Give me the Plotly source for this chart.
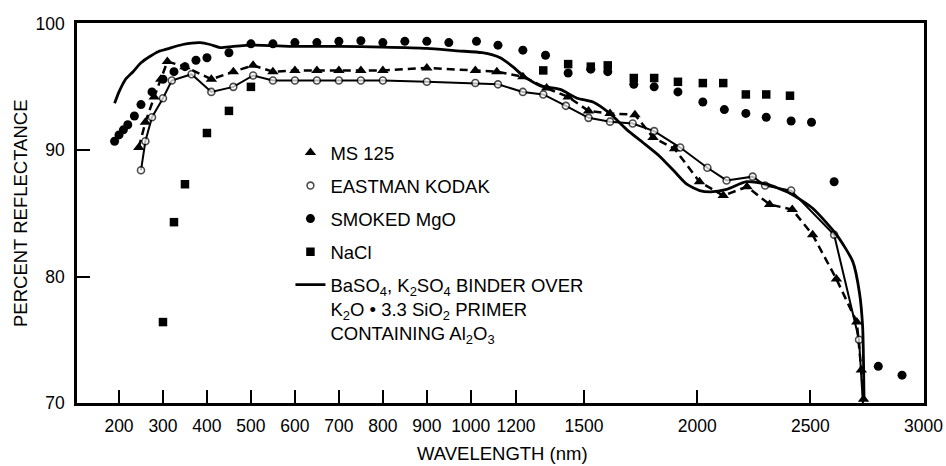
import numpy as np
import plotly.graph_objects as go

# ---- data (wavelength in nm, reflectance in percent) ----
ms125_wl = [245, 260, 280, 295, 310, 350, 410, 460, 505, 550, 600, 650, 700, 750, 800,
            900, 1020, 1115, 1230, 1335, 1430, 1520, 1615, 1725, 1805, 1900, 2010, 2115,
            2220, 2320, 2420, 2510, 2615, 2705, 2725, 2735]
ms125_pct = [90.2, 92.2, 94.2, 95.6, 97.0, 96.6, 95.6, 96.2, 96.7, 96.2, 96.3, 96.3, 96.3,
             96.3, 96.3, 96.5, 96.3, 96.2, 95.8, 94.9, 94.2, 93.1, 92.9, 92.8, 91.0, 90.1,
             87.5, 86.4, 87.1, 85.7, 85.3, 83.3, 79.8, 76.4, 72.6, 70.3]

kodak_wl = [250, 260, 275, 300, 320, 365, 410, 460, 505, 550, 600, 650, 700, 750, 800,
            900, 1020, 1120, 1230, 1320, 1420, 1520, 1615, 1715, 1810, 1925, 2045, 2130,
            2245, 2300, 2415, 2605, 2715, 2732]
kodak_pct = [88.4, 90.7, 92.6, 94.1, 95.5, 96.0, 94.6, 95.0, 95.9, 95.5, 95.5, 95.5, 95.5,
             95.5, 95.5, 95.4, 95.3, 95.2, 94.6, 94.4, 93.5, 92.55, 92.25, 92.1, 91.5, 90.2,
             88.6, 87.6, 87.9, 87.2, 86.8, 83.3, 75.0, 70.0]

mgo_wl = [190, 200, 210, 220, 235, 250, 275, 300, 325, 350, 375, 400, 450, 500, 550, 600,
          650, 700, 750, 800, 850, 900, 950, 1025, 1120, 1230, 1330, 1430, 1530, 1605,
          1720, 1810, 1915, 2025, 2120, 2215, 2305, 2415, 2505, 2605, 2800, 2905]
mgo_pct = [90.7, 91.2, 91.6, 92.0, 92.7, 93.6, 94.6, 95.6, 96.2, 96.6, 97.1, 97.3, 97.7,
           98.4, 98.4, 98.5, 98.5, 98.6, 98.65, 98.5, 98.6, 98.6, 98.5, 98.6, 98.3, 97.9,
           97.5, 96.1, 96.4, 96.2, 95.2, 95.0, 94.6, 93.8, 93.2, 92.9, 92.6, 92.3, 92.2,
           87.5, 72.9, 72.2]

nacl_wl = [300, 325, 350, 400, 450, 500, 1320, 1430, 1530, 1605, 1720, 1810, 1915, 2025,
           2115, 2215, 2305, 2410]
nacl_pct = [76.4, 84.3, 87.3, 91.35, 93.1, 95.0, 96.3, 96.8, 96.6, 96.7, 95.7, 95.7, 95.4,
            95.3, 95.3, 94.4, 94.4, 94.3]

baso4_wl = [190, 200, 215, 232, 250, 270, 290, 310, 345, 385, 407, 430, 460, 505, 600,
            700, 800, 900, 970, 1050, 1130, 1185, 1230, 1305, 1395, 1470, 1540, 1614,
            1690, 1760, 1835, 1900, 1954, 2011, 2060, 2130, 2218, 2307, 2408, 2510, 2616,
            2687, 2717, 2731, 2735, 2737]
baso4_pct = [93.7, 94.6, 95.6, 96.2, 96.9, 97.4, 97.8, 98.0, 98.35, 98.5, 98.35, 98.1, 98.2,
             98.3, 98.2, 98.2, 98.15, 98.05, 97.85, 97.7, 97.3, 96.6, 95.9, 95.1, 94.8, 94.1,
             93.8, 92.9, 91.6, 90.6, 89.5, 88.3, 87.3, 86.8, 86.7, 86.9, 87.5, 87.3, 86.6,
             85.4, 83.3, 81.2, 78.7, 76.0, 73.0, 70.3]

tick_wl = [200, 300, 400, 500, 600, 700, 800, 900, 1000, 1200, 1500, 2000, 2500, 3000]
y_ticks = [70, 80, 90, 100]

# The wavelength axis is compressed by about half beyond 1000 nm.
BREAK_NM = 1000.0
COMPRESS = 453.0 / 880.0


def to_axis(wl):
    wl = np.asarray(wl, dtype=float)
    return np.where(wl <= BREAK_NM, wl, BREAK_NM + (wl - BREAK_NM) * COMPRESS)


FONT_MAIN = "Liberation Sans, Arial, sans-serif"

fig = go.Figure()

# connecting lines (kept out of the legend, which shows the symbols only)
fig.add_trace(go.Scatter(
    x=to_axis(ms125_wl), y=ms125_pct, legendgroup="a", showlegend=False,
    mode="lines", line=dict(color="black", width=2.5, dash="8px,5px"),
    hoverinfo="skip",
))
fig.add_trace(go.Scatter(
    x=to_axis(kodak_wl), y=kodak_pct, legendgroup="b", showlegend=False,
    mode="lines", line=dict(color="black", width=2), hoverinfo="skip",
))

# symbols
fig.add_trace(go.Scatter(
    x=to_axis(ms125_wl), y=ms125_pct, name="MS 125", legendgroup="a", legendrank=1,
    mode="markers", marker=dict(symbol="triangle-up", size=10, color="black"),
))
kodak_sizes = [7] * (len(kodak_wl) - 1) + [0]
fig.add_trace(go.Scatter(
    x=to_axis(kodak_wl), y=kodak_pct, name="EASTMAN KODAK", legendgroup="b",
    legendrank=2, mode="markers",
    marker=dict(symbol="circle", size=kodak_sizes, color="white",
                line=dict(color="black", width=1.6)),
))
fig.add_trace(go.Scatter(
    x=to_axis(mgo_wl), y=mgo_pct, name="SMOKED MgO", legendgroup="c", legendrank=3,
    mode="markers", marker=dict(symbol="circle", size=9, color="black"),
))
fig.add_trace(go.Scatter(
    x=to_axis(nacl_wl), y=nacl_pct, name="NaCl", legendgroup="d", legendrank=4,
    mode="markers", marker=dict(symbol="square", size=8.5, color="black"),
))

# smooth coating curve
fig.add_trace(go.Scatter(
    x=to_axis(baso4_wl), y=baso4_pct, legendgroup="e", legendrank=5,
    name=("BaSO<sub>4</sub>, K<sub>2</sub>SO<sub>4</sub> BINDER OVER<br>"
          "K<sub>2</sub>O \u2022 3.3 SiO<sub>2</sub> PRIMER<br>"
          "CONTAINING Al<sub>2</sub>O<sub>3</sub>"),
    mode="lines",
    line=dict(color="black", width=2.8, shape="spline", smoothing=0.6),
))

axis_common = dict(
    showgrid=False, zeroline=False, showline=True, linecolor="black", linewidth=2.5,
    mirror=True, ticks="inside", ticklen=13, tickwidth=2, tickcolor="black",
    tickfont=dict(family=FONT_MAIN, size=17.5, color="black"),
    automargin=False,
)

fig.update_xaxes(
    range=[104.5, float(to_axis(3000)) + 1.0],
    tickmode="array", tickvals=to_axis(tick_wl), ticktext=[str(t) for t in tick_wl],
    tickangle=0, ticklabelstandoff=5,
    **axis_common,
)
fig.update_yaxes(
    range=[70, 100.05], tickmode="array", tickvals=y_ticks,
    ticktext=[str(t) for t in y_ticks], ticklabelstandoff=6,
    **axis_common,
)

fig.add_annotation(
    text="WAVELENGTH (nm)", xref="paper", yref="paper", x=0.502, y=-0.132,
    xanchor="center", yanchor="middle", showarrow=False,
    font=dict(family=FONT_MAIN, size=18.5, color="black"),
)
fig.add_annotation(
    text="PERCENT REFLECTANCE", xref="paper", yref="paper", x=-0.0673, y=0.5,
    xanchor="center", yanchor="middle", showarrow=False, textangle=-90,
    font=dict(family=FONT_MAIN, size=18.5, color="black"),
)

fig.update_layout(
    width=946, height=466,
    margin=dict(l=77, r=22, t=23, b=63),
    paper_bgcolor="white", plot_bgcolor="white",
    showlegend=True,
    legend=dict(
        x=0.252, y=0.708, xanchor="left", yanchor="top",
        bgcolor="rgba(0,0,0,0)", borderwidth=0,
        font=dict(family=FONT_MAIN, size=18.5, color="black"),
        tracegroupgap=6, valign="top", traceorder="grouped",
    ),
)

fig.write_html("out.html")
